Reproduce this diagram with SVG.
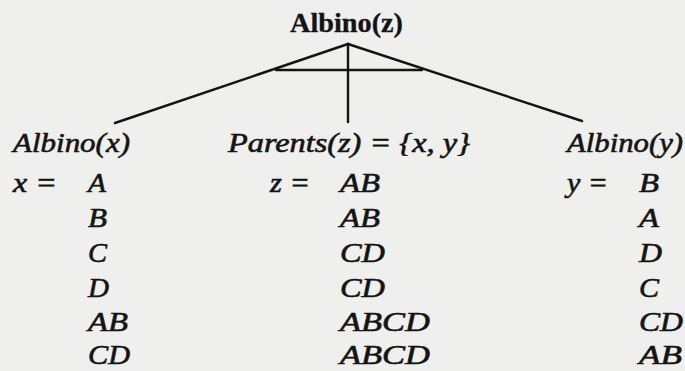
<svg xmlns="http://www.w3.org/2000/svg" width="685" height="371" viewBox="0 0 685 371">
<style>
.bg{fill:#efefed}
.ln{stroke:#141414;stroke-width:2.4;fill:none;stroke-linecap:round}
.t{font-family:"Liberation Serif","Times New Roman",serif;fill:#141414;stroke:#141414;stroke-width:0.6}
.ti{font-style:italic;font-size:27px}
.tb{font-weight:bold;font-size:28px;stroke-width:0.3}
</style>
<rect class="bg" x="0" y="0" width="685" height="371"/>
<g id="connectors">
<line class="ln" x1="348" y1="44" x2="115" y2="123"/>
<line class="ln" x1="348" y1="44" x2="582" y2="121"/>
<line class="ln" x1="348" y1="44" x2="348" y2="122"/>
<line class="ln" x1="276" y1="70" x2="422" y2="70"/>
</g>
<g id="root">
<text class="t tb" x="290" y="32" textLength="113" lengthAdjust="spacingAndGlyphs">Albino(z)</text>
</g>
<g id="left">
<text class="t ti" x="13" y="152" textLength="117" lengthAdjust="spacingAndGlyphs">Albino(x)</text>
<text class="t ti" x="13" y="192" textLength="44" lengthAdjust="spacingAndGlyphs">x =</text>
<text class="t ti" x="88" y="192" textLength="18" lengthAdjust="spacingAndGlyphs">A</text>
<text class="t ti" x="88" y="227" textLength="19" lengthAdjust="spacingAndGlyphs">B</text>
<text class="t ti" x="88" y="262" textLength="19" lengthAdjust="spacingAndGlyphs">C</text>
<text class="t ti" x="88" y="297" textLength="21" lengthAdjust="spacingAndGlyphs">D</text>
<text class="t ti" x="88" y="331" textLength="40" lengthAdjust="spacingAndGlyphs">AB</text>
<text class="t ti" x="88" y="364" textLength="42" lengthAdjust="spacingAndGlyphs">CD</text>
</g>
<g id="middle">
<text class="t ti" x="228" y="152" textLength="242" lengthAdjust="spacingAndGlyphs">Parents(z) = {x, y}</text>
<text class="t ti" x="270" y="192" textLength="40" lengthAdjust="spacingAndGlyphs">z =</text>
<text class="t ti" x="340" y="192" textLength="40" lengthAdjust="spacingAndGlyphs">AB</text>
<text class="t ti" x="340" y="227" textLength="40" lengthAdjust="spacingAndGlyphs">AB</text>
<text class="t ti" x="340" y="262" textLength="45" lengthAdjust="spacingAndGlyphs">CD</text>
<text class="t ti" x="340" y="297" textLength="45" lengthAdjust="spacingAndGlyphs">CD</text>
<text class="t ti" x="340" y="331" textLength="90" lengthAdjust="spacingAndGlyphs">ABCD</text>
<text class="t ti" x="340" y="364" textLength="90" lengthAdjust="spacingAndGlyphs">ABCD</text>
</g>
<g id="right">
<text class="t ti" x="567" y="152" textLength="116" lengthAdjust="spacingAndGlyphs">Albino(y)</text>
<text class="t ti" x="567" y="192" textLength="41" lengthAdjust="spacingAndGlyphs">y =</text>
<text class="t ti" x="639" y="192" textLength="20" lengthAdjust="spacingAndGlyphs">B</text>
<text class="t ti" x="639" y="227" textLength="20" lengthAdjust="spacingAndGlyphs">A</text>
<text class="t ti" x="639" y="262" textLength="23" lengthAdjust="spacingAndGlyphs">D</text>
<text class="t ti" x="639" y="297" textLength="20" lengthAdjust="spacingAndGlyphs">C</text>
<text class="t ti" x="639" y="331" textLength="44" lengthAdjust="spacingAndGlyphs">CD</text>
<text class="t ti" x="639" y="364" textLength="43" lengthAdjust="spacingAndGlyphs">AB</text>
</g>
</svg>
